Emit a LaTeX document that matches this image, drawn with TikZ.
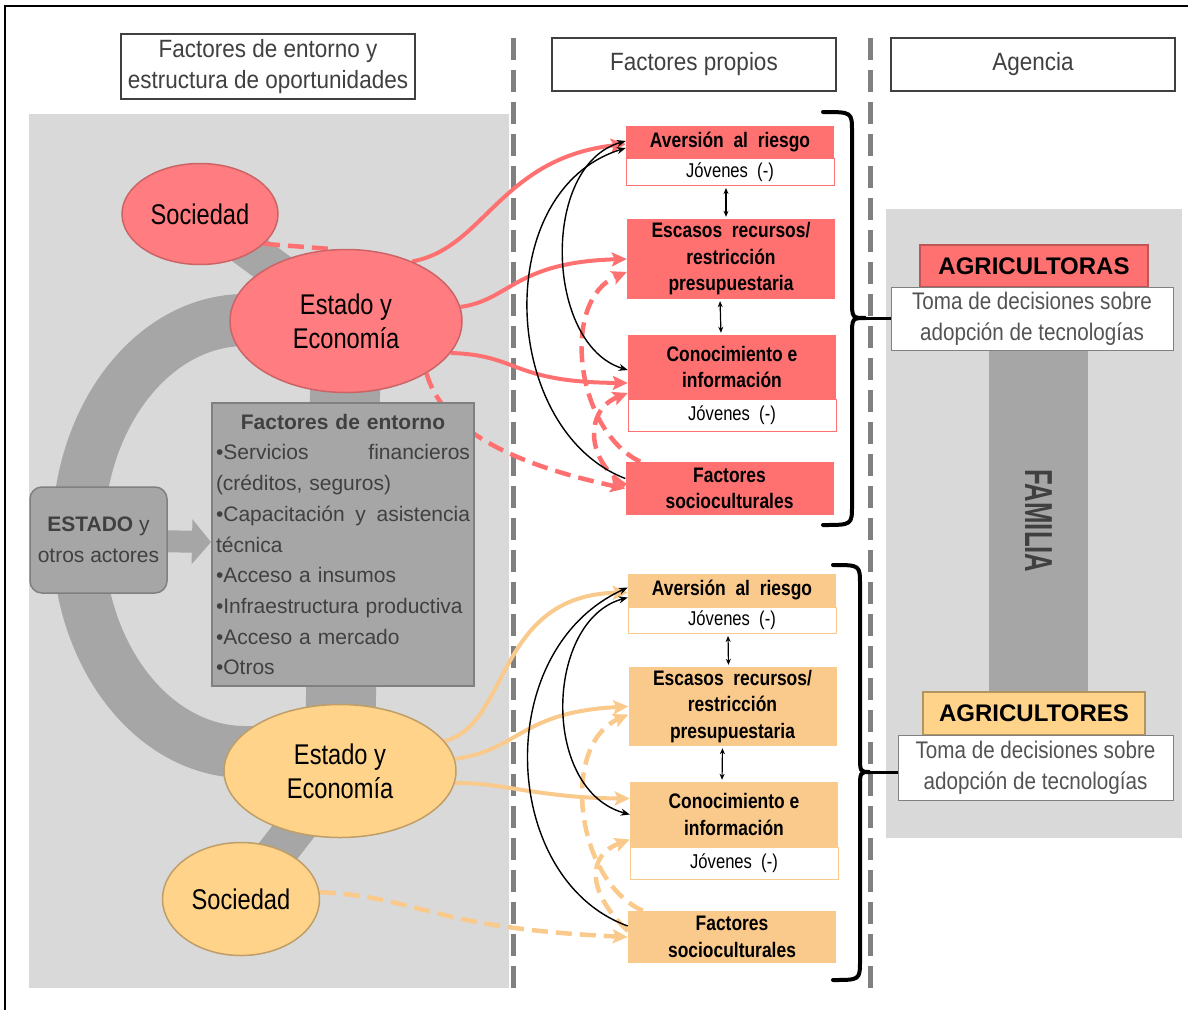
\documentclass[tikz,border=0pt]{standalone}
\usepackage{fontspec}
\setmainfont{Liberation Sans}
\newfontfamily\narrowfont[FakeStretch=0.83]{Liberation Sans}
\newfontfamily\headfont[FakeStretch=0.9]{Liberation Sans}
\newfontfamily\tallfont[FakeStretch=0.66]{Liberation Sans}
\newfontfamily\tomafont[FakeStretch=0.86]{Liberation Sans}
\usetikzlibrary{shapes.geometric, arrows.meta, positioning, calc}

\definecolor{redfill}{HTML}{FF7C80}
\definecolor{redbox}{HTML}{FF7171}
\definecolor{orafill}{HTML}{FFD38A}
\definecolor{orabox}{HTML}{FAC98C}
\definecolor{bggray}{HTML}{D9D9D9}
\definecolor{bandgray}{HTML}{A6A6A6}
\definecolor{txtgray}{HTML}{404040}
\definecolor{divgray}{HTML}{808080}

\pgfdeclarelayer{back}
\pgfdeclarelayer{mid}
\pgfsetlayers{back,mid,main}

\tikzset{
  oval/.style = {ellipse, inner sep = 0, align = center, line width = 1.5pt, font = \narrowfont\fontsize{28.5}{34}\selectfont},
  hdbox/.style = {draw = txtgray, line width = 1.2pt, fill = white, inner sep = 0, align = center, text = txtgray, font = \headfont\fontsize{25}{31}\selectfont},
  propbox/.style = {minimum width = 208pt, inner sep = 0, align = center, font = \narrowfont\bfseries\fontsize{21}{26.5}\selectfont},
  jovbox/.style = {minimum width = 208pt, inner sep = 0, fill = white, line width = 0.8pt, font = \narrowfont\fontsize{20}{24}\selectfont},
  envbox/.style = {fill = bandgray, draw = divgray, line width = 2pt, inner xsep = 4pt, inner ysep = 4pt, text width = 254pt, minimum height = 283pt, align = left, text = txtgray, font = \fontsize{21}{30.7}\selectfont},
  actbox/.style = {fill = bandgray, draw = divgray, line width = 1.5pt, rounded corners = 12pt, inner sep = 0, minimum width = 137pt, minimum height = 106pt, align = center, text = txtgray, font = \fontsize{21}{31}\selectfont},
  agbox/.style = {inner sep = 0, minimum width = 228pt, minimum height = 42pt, line width = 1.2pt, font = \bfseries\fontsize{24}{28}\selectfont},
  tomabox/.style = {draw = divgray, line width = 1pt, fill = white, inner sep = 0, align = center, text = txtgray!90, font = \tomafont\fontsize{24}{31}\selectfont},
  divline/.style = {divgray, line width = 5pt, dash pattern = on 22pt off 10pt},
  bandline/.style = {bandgray},
  redarr/.style = {redbox, line width = 4pt, -{Stealth[length = 15pt, width = 14pt, inset = 3pt]}},
  reddash/.style = {redarr, line width = 4.5pt, dash pattern = on 16pt off 8pt},
  oraarr/.style = {orabox, line width = 4pt, -{Stealth[length = 15pt, width = 14pt, inset = 3pt]}},
  oradash/.style = {oraarr, line width = 4.5pt, dash pattern = on 16pt off 8pt},
  blkarr/.style = {black, line width = 1.4pt, -{Stealth[length = 9pt, width = 7pt]}},
  dblarr/.style = {black, line width = 1.2pt, {Stealth[length = 6pt, width = 5pt]}-{Stealth[length = 6pt, width = 5pt]}, shorten > = 2pt, shorten < = 2pt},
  curly/.style = {black, line width = 4pt, line cap = round},
}

\begin{document}
\begin{tikzpicture}[x = 1pt, y = -1pt]
  \useasboundingbox (0, 0) rectangle (1188, 1010);

  % marco
  \draw [line width = 2pt] (5, 1010) -- (5, 6) -- (1188, 6);

  % encabezados
  \node [hdbox, minimum width = 294pt, minimum height = 65pt] (hent) at (268, 66.5) {Factores de entorno y\\estructura de oportunidades};
  \node [hdbox, minimum width = 284pt, minimum height = 53pt] (hprop) at (694, 64.5) {Factores propios};
  \node [hdbox, minimum width = 284pt, minimum height = 53pt] (hagen) at (1033, 64.5) {Agencia};

  % entorno
  \node [oval, fill = redfill, draw = redfill!80!black, minimum width = 156pt, minimum height = 101pt] (socl1) at (200, 214) {Sociedad};
  \node [oval, fill = redfill, draw = redfill!80!black, minimum width = 232pt, minimum height = 143pt] (estl1) at (346, 321) {Estado y\\Economía};
  \node [oval, fill = orafill, draw = orafill!75!black, minimum width = 232pt, minimum height = 133pt] (estl2) at (340, 771) {Estado y\\Economía};
  \node [oval, fill = orafill, draw = orafill!75!black, minimum width = 157pt, minimum height = 113pt] (socl2) at (241, 899) {Sociedad};

  \node [envbox] (fent) at (343, 544.5) {%
    \makebox[\linewidth]{\bfseries Factores de entorno}\\
    •Servicios\hfill financieros\\
    (créditos, seguros)\\
    •Capacitación\hfill y\hfill asistencia\\
    técnica\\
    •Acceso a insumos\\
    •Infraestructura productiva\\
    •Acceso a mercado\\
    •Otros};
  \node [actbox] (actores) at (98.5, 540) {\textbf{ESTADO} y\\otros actores};

  % factores propios (agricultoras)
  \node [propbox, fill = redbox, minimum height = 32pt] (av1) at (730, 142) {Aversión~ al~ riesgo};
  \node [jovbox, draw = redbox, minimum height = 27pt, below = 0pt of av1] (jv1a) {Jóvenes~ (-)};
  \node [propbox, fill = redbox, minimum height = 80pt] (esc1) at (731, 259) {Escasos~ recursos/\\restricción\\presupuestaria};
  \node [propbox, fill = redbox, minimum height = 64pt] (con1) at (732, 367) {Conocimiento e\\información};
  \node [jovbox, draw = redbox, minimum height = 32pt, below = 0pt of con1] (jv1b) {Jóvenes~ (-)};
  \node [propbox, fill = redbox, minimum height = 53pt] (soc1) at (729.5, 488.5) {Factores\\socioculturales};

  % factores propios (agricultores)
  \node [propbox, fill = orabox, minimum height = 33pt] (av2) at (732, 590.5) {Aversión~ al~ riesgo};
  \node [jovbox, draw = orabox, minimum height = 26pt, below = 0pt of av2] (jv2a) {Jóvenes~ (-)};
  \node [propbox, fill = orabox, minimum height = 79pt] (esc2) at (732.5, 706.5) {Escasos~ recursos/\\restricción\\presupuestaria};
  \node [propbox, fill = orabox, minimum height = 65pt] (con2) at (734, 814.5) {Conocimiento e\\información};
  \node [jovbox, draw = orabox, minimum height = 32pt, below = 0pt of con2] (jv2b) {Jóvenes~ (-)};
  \node [propbox, fill = orabox, minimum height = 52pt] (soc2) at (732, 937) {Factores\\socioculturales};

  % agencia
  \node [fill = bandgray, minimum width = 99pt, minimum height = 342pt, inner sep = 0] (fam) at (1038.5, 521) {};
  \node [rotate = -90, text = txtgray, font = \tallfont\bfseries\fontsize{39}{40}\selectfont] (famtxt) at (fam) {FAMILIA};
  \node [agbox, fill = redbox, draw = redbox!75!black] (agras) at (1034, 266) {AGRICULTORAS};
  \node [tomabox, minimum width = 282pt, minimum height = 63pt] (toma1) at (1032, 318.5) {Toma de decisiones sobre\\adopción de tecnologías};
  \node [agbox, fill = orafill, draw = orafill!70!black, minimum width = 222pt, minimum height = 43pt] (agres) at (1034, 713.5) {AGRICULTORES};
  \node [tomabox, minimum width = 275pt, minimum height = 65pt] (toma2) at (1035.5, 767.5) {Toma de decisiones sobre\\adopción de tecnologías};

  % fondos y bandas
  \begin{pgfonlayer}{back}
    \fill [bggray] (29, 114) rectangle (509, 988);
    \fill [bggray] (886, 209) rectangle (1182, 838);
    \draw [divline] (513, 38) -- (513, 990);
    \draw [divline] (870, 38) -- (870, 990);
    \draw [bandline, line width = 52pt] (262, 752) -- (245, 752) .. controls (153, 752) and (78, 655) .. (78, 536) .. controls (78, 417) and (153, 320) .. (245, 320) -- (262, 320);
    \draw [bandline, line width = 70pt] (estl1.center) -- (estl2.center);
    \draw [bandline, line width = 38pt] (socl1.center) -- (estl1.center);
    \draw [bandline, line width = 40pt] (estl2.center) -- (socl2.center);
  \end{pgfonlayer}

  \begin{pgfonlayer}{mid}
    \draw [bandline, line width = 22pt, -{Triangle[length = 19pt, width = 44pt]}] (actores) -- (fent);

    % conexiones agricultoras
    \draw [redarr] (estl1.42) .. controls (485, 248) and (500, 158) .. ([yshift = -2pt]av1.west);
    \draw [redarr] (estl1.7) .. controls (510, 300) and (515, 262) .. (esc1.west);
    \draw [redarr] (estl1.-17) .. controls (520, 355) and (510, 382) .. ([yshift = -16pt]con1.west);
    \draw [reddash] (estl1.-33) .. controls (445, 440) and (540, 470) .. (soc1.west);
    \draw [reddash, -] (socl1.-25) -- (estl1.100);
    \draw [reddash] ([xshift = 15pt]soc1.north west) .. controls (575, 430) and (560, 300) .. ([yshift = -13pt]esc1.west);
    \draw [reddash] ([yshift = 3pt]soc1.west) .. controls (585, 460) and (585, 410) .. ([yshift = -26pt]con1.west);

    % conexiones agricultores
    \draw [oraarr] (estl2.16) .. controls (510, 725) and (495, 595) .. ([yshift = -2pt]av2.west);
    \draw [oraarr] (estl2.6) .. controls (520, 750) and (520, 712) .. (esc2.west);
    \draw [oraarr] (estl2.-6) .. controls (500, 782) and (540, 798) .. ([yshift = 16pt]con2.west);
    \draw [oradash] (socl2.5) .. controls (420, 897) and (430, 928) .. (soc2.west);
    \draw [oradash] ([xshift = 15pt]soc2.north west) .. controls (575, 880) and (560, 745) .. ([yshift = -8pt]esc2.west);
    \draw [oradash] ([yshift = 6pt]soc2.west) .. controls (585, 890) and (588, 855) .. ([yshift = -25pt]con2.west);

    % relaciones entre factores
    \draw [blkarr] ([yshift = 10pt]soc1.west) .. controls (500, 430) and (490, 190) .. ([yshift = -6pt]av1.west);
    \draw [blkarr, {Stealth[length = 9pt, width = 7pt]}-{Stealth[length = 9pt, width = 7pt]}] ([yshift = 1pt]av1.west) .. controls (540, 165) and (545, 345) .. ([yshift = -3pt]con1.west);
    \draw [blkarr] ([yshift = 11pt]soc2.west) .. controls (500, 880) and (490, 650) .. ([yshift = 3pt]av2.west);
    \draw [blkarr, {Stealth[length = 9pt, width = 7pt]}-{Stealth[length = 9pt, width = 7pt]}] ([yshift = -7pt]av2.west) .. controls (545, 620) and (540, 790) .. (con2.west);

    \draw [dblarr] ([xshift = -4pt]jv1a.south) -- ([xshift = -5pt]esc1.north);
    \draw [dblarr] ([xshift = -11pt]esc1.south) -- ([xshift = -11pt]con1.north);
    \draw [dblarr] ([xshift = -4pt]jv2a.south) -- ([xshift = -4pt]esc2.north);
    \draw [dblarr] ([xshift = -10pt]esc2.south) -- ([xshift = -12pt]con2.north);
  \end{pgfonlayer}

  % llaves
  \draw [curly] (823, 112) .. controls (852, 112) .. (852, 132) -- (852, 300) .. controls (852, 318) .. (866, 318) .. controls (852, 318) .. (852, 336) -- (852, 505) .. controls (852, 525) .. (823, 525);
  \coordinate (tip1) at (866, 318);
  \draw [line width = 3pt] (tip1) -- (tip1 -| toma1.west);
  \draw [curly] (833, 565) .. controls (860, 565) .. (860, 585) -- (860, 755) .. controls (860, 772) .. (870, 772) .. controls (860, 772) .. (860, 789) -- (860, 960) .. controls (860, 980) .. (833, 980);
  \coordinate (tip2) at (870, 772);
  \draw [line width = 3pt] (tip2) -- (tip2 -| toma2.west);
\end{tikzpicture}
\end{document}
